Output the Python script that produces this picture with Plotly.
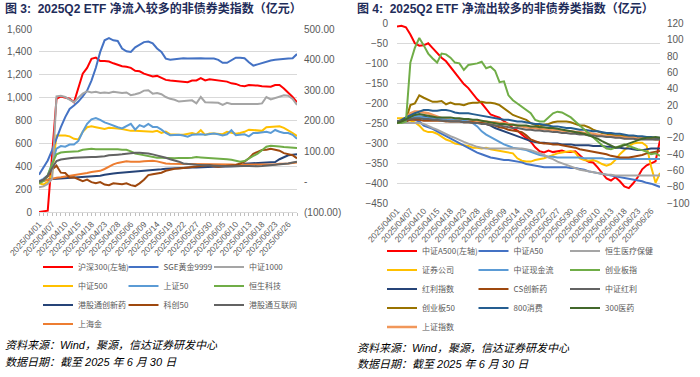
import plotly.graph_objects as go

# ---------------- categories (trading days, 2025Q2) ----------------
dates = [
    "2025/04/01", "2025/04/02", "2025/04/03", "2025/04/07", "2025/04/08", "2025/04/09", "2025/04/10", "2025/04/11",
    "2025/04/14", "2025/04/15", "2025/04/16", "2025/04/17", "2025/04/18", "2025/04/21", "2025/04/22", "2025/04/23",
    "2025/04/24", "2025/04/25", "2025/04/28", "2025/04/29", "2025/04/30",
    "2025/05/06", "2025/05/07", "2025/05/08", "2025/05/09", "2025/05/12", "2025/05/13", "2025/05/14", "2025/05/15",
    "2025/05/16", "2025/05/19", "2025/05/20", "2025/05/21", "2025/05/22", "2025/05/23", "2025/05/26", "2025/05/27",
    "2025/05/28", "2025/05/29", "2025/05/30",
    "2025/06/03", "2025/06/04", "2025/06/05", "2025/06/06", "2025/06/09", "2025/06/10", "2025/06/11", "2025/06/12",
    "2025/06/13", "2025/06/16", "2025/06/17", "2025/06/18", "2025/06/19", "2025/06/20", "2025/06/23", "2025/06/24",
    "2025/06/25", "2025/06/26", "2025/06/27", "2025/06/30",
]
tick_dates = dates[::3]

# ---------------- Figure 3: inflows (亿元) ----------------
hs300 = [0, 5, 12, 500, 990, 1010, 1000, 990, 960, 1080, 1210, 1260, 1340, 1350, 1320, 1320, 1315, 1300, 1285, 1275,
         1270, 1260, 1235, 1230, 1210, 1200, 1185, 1190, 1170, 1155, 1150, 1145, 1140, 1135, 1135, 1150, 1150, 1170, 1150, 1160,
         1155, 1145, 1140, 1140, 1125, 1120, 1105, 1100, 1110, 1110, 1105, 1100, 1100, 1095, 1110, 1110, 1080, 1045, 1005, 960]
sge_gold = [22, 46, 69, 103, 144, 178, 211, 238, 249, 262, 279, 298, 331, 373, 425, 463, 470, 463, 461, 436,
            427, 425, 440, 448, 457, 459, 453, 436, 425, 403, 399, 401, 403, 404, 403, 404, 404, 404, 403, 403,
            403, 399, 389, 389, 397, 406, 406, 404, 391, 380, 384, 389, 393, 397, 399, 401, 403, 403, 404, 418]
csi1000 = [-19, -16, -8, 9, 279, 281, 277, 268, 260, 275, 288, 296, 292, 294, 290, 292, 290, 294, 292, 290,
           292, 283, 286, 290, 298, 299, 288, 290, 286, 277, 271, 268, 262, 264, 266, 266, 256, 277, 260, 260,
           258, 258, 251, 258, 254, 254, 253, 254, 253, 254, 254, 256, 277, 269, 273, 279, 283, 281, 271, 251]
csi500 = [-6, -10, -1, 24, 151, 151, 151, 148, 140, 138, 163, 178, 181, 178, 174, 172, 176, 176, 174, 172,
          168, 166, 166, 166, 166, 164, 163, 166, 159, 164, 155, 153, 153, 153, 155, 159, 155, 168, 153, 157,
          157, 155, 155, 163, 159, 157, 159, 163, 170, 168, 168, 166, 178, 179, 181, 181, 176, 168, 159, 149]
sse50 = [1, 9, 20, 58, 108, 116, 114, 121, 121, 133, 163, 189, 204, 208, 202, 194, 189, 183, 178, 174,
         181, 189, 170, 185, 179, 189, 179, 179, 170, 159, 152, 153, 153, 151, 147, 153, 155, 155, 153, 154,
         157, 155, 151, 155, 168, 152, 153, 155, 148, 159, 159, 161, 163, 159, 169, 163, 159, 159, 153, 140]
hstech = [-6, 1, 20, 58, 89, 95, 97, 97, 97, 99, 104, 106, 107, 106, 106, 108, 107, 106, 106, 104,
          104, 99, 92, 89, 86, 82, 79, 78, 78, 77, 76, 76, 77, 76, 77, 78, 80, 79, 78, 77,
          76, 76, 76, 73, 71, 69, 65, 67, 76, 84, 91, 104, 114, 117, 117, 115, 113, 112, 111, 110]
hk_innov_drug = [1, 4, 7, 8, 9, 10, 12, 13, 14, 15, 16, 16, 17, 17, 19, 22, 25, 26, 28, 29,
                 30, 31, 32, 33, 34, 35, 36, 37, 40, 42, 43, 43, 44, 45, 46, 46, 46, 47, 47, 47,
                 48, 48, 49, 49, 50, 50, 51, 58, 59, 59, 61, 61, 62, 63, 64, 73, 80, 86, 88, 89]
star50 = [-1, 5, 16, 39, 52, 29, 28, 13, 14, 7, 1, 6, -2, -6, -2, -10, -12, -6, -8, -9,
          -6, -12, -15, -6, 6, 21, 24, 26, 29, 35, 39, 42, 43, 44, 46, 47, 49, 51, 53, 54,
          50, 48, 50, 51, 52, 54, 59, 65, 76, 91, 97, 103, 104, 107, 104, 101, 93, 89, 86, 76]
hk_internet = [-1, 5, 20, 46, 67, 72, 75, 76, 78, 79, 79, 80, 80, 80, 81, 83, 86, 88, 88, 89,
               91, 93, 94, 94, 94, 92, 89, 86, 82, 78, 73, 70, 65, 59, 57, 55, 55, 54, 53, 53,
               52, 52, 51, 50, 50, 51, 51, 51, 51, 50, 50, 51, 52, 53, 54, 56, 58, 59, 62, 65]
sh_gold = [-2, 2, 6, 10, 12, 14, 16, 18, 21, 24, 26, 28, 31, 33, 35, 41, 49, 56, 61, 64,
           66, 65, 64, 65, 66, 67, 68, 66, 62, 59, 58, 58, 58, 58, 58, 57, 56, 56, 57, 57,
           58, 57, 57, 56, 56, 55, 55, 54, 55, 55, 56, 55, 55, 55, 56, 58, 58, 59, 61, 62]

# ---------------- Figure 4: outflows (亿元) ----------------
a500 = [-8, -6, -10, -28, -50, -56, -55, -50, -62, -74, -86, -95, -110, -125, -140, -152, -162, -175, -190, -200,
        -215, -228, -232, -236, -245, -252, -262, -268, -278, -286, -296, -310, -320, -323, -318, -322, -320, -318, -322, -322,
        -320, -330, -340, -346, -348, -360, -375, -388, -393, -385, -395, -408, -412, -400, -385, -365, -355, -350, -345, -292]
a50 = [0, 0, 1, 3, 2, 0, -5, -7, -9, -12, -15, -18, -21, -24, -27, -30, -33, -35, -38, -40,
       -42, -44, -45, -46, -47, -47, -48, -49, -50, -52, -53, -54, -55, -56, -56, -56, -56, -56, -56, -57,
       -57, -58, -59, -61, -62, -63, -64, -65, -66, -67, -68, -69, -70, -71, -72, -73, -75, -76, -78, -80]
hs_health = [-2, -2, -2, -2, -2, -2, -3, -6, -8, -10, -13, -16, -18, -20, -23, -25, -27, -29, -31, -32,
             -33, -33, -33, -33, -33, -33, -33, -33, -33, -34, -35, -37, -39, -41, -44, -46, -49, -51, -53, -55,
             -57, -59, -60, -61, -62, -63, -64, -65, -65, -66, -66, -66, -66, -66, -66, -66, -66, -66, -66, -66]
brokers = [4, 4, 4, 1, -1, -5, -11, -13, -13, -15, -19, -22, -24, -27, -28, -29, -30, -32, -32, -33,
           -32, -34, -35, -36, -37, -38, -39, -45, -48, -49, -49, -47, -46, -45, -43, -41, -39, -38, -37, -36,
           -38, -45, -47, -48, -47, -49, -52, -54, -52, -47, -40, -35, -30, -27, -26, -26, -30, -55, -75, -63]
cashflow = [0, 1, 3, 5, 6, 6, 5, 4, 4, 3, 3, 2, 2, 2, 1, 1, 0, -2, -6, -12,
            -16, -19, -23, -26, -28, -30, -32, -33, -34, -35, -37, -39, -41, -42, -43, -43, -44, -44, -44, -44,
            -44, -44, -45, -45, -45, -45, -45, -46, -46, -46, -46, -46, -46, -46, -46, -46, -46, -46, -46, -46]
chinext = [-2, -2, 0, 72, 90, 102, 93, 83, 77, 72, 83, 82, 78, 72, 71, 63, 69, 70, 71, 73,
           65, 67, 62, 48, 49, 32, 26, 22, 18, 14, 10, 2, 0, 0, 5, 10, 12, 11, 8, 5,
           0, -5, -10, -15, -20, -25, -29, -33, -34, -32, -30, -28, -30, -32, -34, -35, -37, -40, -39, -42]
dividend = [0, 1, 3, 5, 6, 6, 6, 5, 4, 3, 2, 2, 2, 2, 2, 2, 1, 1, 0, -1,
            -3, -5, -8, -10, -12, -14, -16, -18, -20, -22, -24, -25, -26, -26, -27, -27, -27, -28, -28, -28,
            -29, -29, -29, -29, -30, -30, -30, -31, -31, -32, -32, -33, -33, -34, -35, -35, -34, -33, -33, -33]
cs_innov_drug = [-2, -1, 0, 2, 2, 2, 1, 1, 1, 1, 1, 0, 0, 0, 0, -1, -1, -1, -2, -2,
                 -3, -4, -5, -7, -8, -10, -11, -12, -13, -17, -22, -24, -26, -27, -27, -28, -28, -29, -30, -31,
                 -32, -34, -35, -36, -37, -38, -39, -40, -42, -43, -44, -44, -44, -43, -42, -41, -39, -38, -37, -36]
csi_dividend = [0, 1, 2, 3, 4, 4, 3, 3, 2, 2, 1, 1, 0, 0, 0, -1, -1, -2, -2, -3,
                -3, -4, -5, -5, -6, -7, -8, -8, -9, -10, -10, -11, -11, -12, -12, -13, -13, -14, -14, -15,
                -15, -16, -16, -17, -17, -18, -18, -19, -19, -20, -20, -21, -21, -21, -22, -22, -22, -22, -22, -22]
chinext50 = [-2, -2, 2, 20, 22, 32, 29, 26, 24, 24, 25, 21, 23, 21, 21, 20, 22, 23, 23, 24,
             23, 23, 22, 20, 16, 11, 8, 6, 4, 2, -2, -4, -6, -4, -3, -1, 0, 0, 0, -1,
             -3, -5, -5, -7, -10, -12, -14, -15, -16, -17, -17, -18, -18, -18, -19, -20, -21, -21, -22, -22]
consume800 = [0, 2, 5, 8, 10, 12, 14, 14, 13, 13, 14, 14, 13, 11, 10, 10, 10, 9, 8, 7,
              6, 5, 4, 3, 2, 2, 1, 0, 0, -1, -2, -3, -3, -4, -5, -6, -6, -7, -8, -8,
              -9, -10, -10, -11, -12, -12, -13, -14, -14, -15, -15, -16, -17, -17, -18, -18, -19, -19, -20, -20]
pharma300 = [-2, 0, 3, 6, 8, 9, 8, 7, 6, 5, 5, 5, 5, 4, 4, 3, 3, 2, 2, 1,
             0, -1, -2, -3, -3, -4, -4, -5, -5, -5, -6, -6, -7, -7, -8, -8, -9, -10, -11, -12,
             -13, -14, -15, -17, -19, -21, -24, -27, -30, -32, -31, -29, -27, -25, -23, -21, -20, -20, -19, -20]
sse_composite = [-2, 0, 4, 10, 12, 12, 11, 10, 8, 6, 4, 3, 2, 2, 1, 1, 0, 0, 0, 0,
                 0, -1, -1, -2, -2, -3, -4, -5, -6, -7, -8, -8, -9, -9, -10, -10, -11, -11, -12, -12,
                 -13, -13, -14, -14, -15, -16, -17, -18, -18, -19, -19, -20, -20, -20, -21, -21, -21, -21, -21, -21]

# right-axis tick labels of figure 3
f3_right_vals = [-100, 0, 100, 200, 300, 400, 500]
f3_right_text = ["(100.00)", "-", "100.00", "200.00", "300.00", "400.00", "500.00"]

W, H = 700, 377
TICK_FONT = dict(family="Liberation Sans, Arial, sans-serif", size=10, color="#595959")
CJK = "Noto Sans CJK SC, Liberation Sans, sans-serif"
GRID = "#D9D9D9"

fig = go.Figure()


def add(name, y, color, xa, ya, legend, group, width=2.0, lw=None):
    fig.add_trace(go.Scatter(
        x=dates, y=y, name=name, mode="lines",
        line=dict(color=color, width=width),
        xaxis=xa, yaxis=ya, legend=legend, legendgroup=group,
        legendwidth=lw, hoverinfo="skip",
    ))


# Figure 3 traces (column-wise legend groups)
add("沪深300(左轴)", hs300, "#FF0000", "x", "y", "legend", "L1")
add("中证500", csi500, "#FFC000", "x", "y2", "legend", "L1")
add("港股通创新药", hk_innov_drug, "#264478", "x", "y2", "legend", "L1")
add("上海金", sh_gold, "#ED7D31", "x", "y2", "legend", "L1")
add("SGE黄金9999", sge_gold, "#4472C4", "x", "y2", "legend", "L2")
add("上证50", sse50, "#5B9BD5", "x", "y2", "legend", "L2")
add("科创50", star50, "#9E480E", "x", "y2", "legend", "L2")
add("中证1000", csi1000, "#A5A5A5", "x", "y2", "legend", "L3", lw=90)
add("恒生科技", hstech, "#70AD47", "x", "y2", "legend", "L3", lw=90)
add("港股通互联网", hk_internet, "#636363", "x", "y2", "legend", "L3", lw=90)

# Figure 4 traces
add("中证A500(左轴)", a500, "#FF0000", "x2", "y3", "legend2", "R1")
add("证券公司", brokers, "#FFC000", "x2", "y4", "legend2", "R1")
add("红利指数", dividend, "#264478", "x2", "y4", "legend2", "R1")
add("创业板50", chinext50, "#997300", "x2", "y4", "legend2", "R1")
add("上证指数", sse_composite, "#F1975A", "x2", "y4", "legend2", "R1", width=2.6)
add("中证A50", a50, "#4472C4", "x2", "y4", "legend2", "R2")
add("中证现金流", cashflow, "#5B9BD5", "x2", "y4", "legend2", "R2")
add("CS创新药", cs_innov_drug, "#9E480E", "x2", "y4", "legend2", "R2")
add("800消费", consume800, "#255E91", "x2", "y4", "legend2", "R2")
add("恒生医疗保健", hs_health, "#A5A5A5", "x2", "y4", "legend2", "R3", lw=80)
add("创业板指", chinext, "#70AD47", "x2", "y4", "legend2", "R3", lw=80)
add("中证红利", csi_dividend, "#636363", "x2", "y4", "legend2", "R3", lw=80)
add("300医药", pharma300, "#43682B", "x2", "y4", "legend2", "R3", lw=80)


def px_x(p):
    return p / W


def px_y(p):
    return 1 - p / H


xcommon = dict(
    type="category", categoryorder="array", categoryarray=dates,
    range=[0, len(dates) - 1], tickmode="array", tickvals=tick_dates, ticktext=tick_dates,
    tickangle=-48, tickfont=dict(family=TICK_FONT["family"], size=8.5, color="#595959"),
    showgrid=False, zeroline=False, automargin=False, fixedrange=True,
)

fig.update_layout(
    template="none",
    width=W, height=H,
    margin=dict(l=0, r=0, t=0, b=0),
    paper_bgcolor="white", plot_bgcolor="white",
    showlegend=True,
    xaxis=dict(**xcommon, domain=[px_x(39), px_x(297)], anchor="y",
               showline=True, linecolor=GRID, linewidth=1,
               ticks="outside", ticklen=3, tickcolor="#BFBFBF",
               minor=dict(ticks="outside", ticklen=3, tickcolor="#BFBFBF", dtick=1)),
    yaxis=dict(domain=[px_y(212), px_y(29)], anchor="x", range=[0, 1600], dtick=200,
               tickformat=",", tickfont=TICK_FONT, showgrid=True, gridcolor=GRID, gridwidth=1,
               zeroline=False, showline=False, ticks="", ticklabelstandoff=6, automargin=False),
    yaxis2=dict(overlaying="y", side="right", anchor="x", range=[-100, 500],
                tickmode="array", tickvals=f3_right_vals, ticktext=f3_right_text,
                tickfont=TICK_FONT, showgrid=False, zeroline=False, showline=False, ticks="",
                ticklabelstandoff=6, automargin=False),
    xaxis2=dict(**xcommon, domain=[px_x(397), px_x(660)], anchor="y3",
                showline=False, ticks=""),
    xaxis3=dict(overlaying="x2", anchor="y3", side="top", type="category",
                categoryorder="array", categoryarray=dates, range=[0, len(dates) - 1],
                showticklabels=False, showgrid=False, zeroline=False,
                showline=True, linecolor=GRID, linewidth=1,
                ticks="inside", ticklen=3, tickcolor="#BFBFBF", dtick=1, automargin=False),
    yaxis3=dict(domain=[px_y(203.3), px_y(23.3)], anchor="x2", range=[-450, 0], dtick=50,
                tickfont=TICK_FONT, showgrid=True, gridcolor=GRID, gridwidth=1,
                zeroline=False, showline=False, ticks="", ticklabelstandoff=8, automargin=False),
    yaxis4=dict(overlaying="y3", side="right", anchor="x2", range=[-100, 120], dtick=20,
                tickfont=TICK_FONT, showgrid=False, zeroline=False, showline=False, ticks="",
                ticklabelstandoff=6, automargin=False),
    legend=dict(orientation="h", traceorder="grouped", x=px_x(38), xanchor="left",
                y=px_y(252.5), yanchor="top", entrywidth=40.5, entrywidthmode="pixels",
                font=dict(family=CJK, size=8, color="#595959"), bgcolor="rgba(0,0,0,0)",
                tracegroupgap=0, borderwidth=0),
    legend2=dict(orientation="h", traceorder="grouped", x=px_x(382), xanchor="left",
                 y=px_y(236.5), yanchor="top", entrywidth=46.5, entrywidthmode="pixels",
                 font=dict(family=CJK, size=8, color="#595959"), bgcolor="rgba(0,0,0,0)",
                 tracegroupgap=0, borderwidth=0),
)

TITLE_FONT = dict(family="Liberation Sans, Noto Sans CJK SC, sans-serif", size=12, color="#1F2D5A")
SRC_FONT = dict(family="Liberation Sans, Noto Sans CJK SC, sans-serif", size=11, color="#000000")

annotations = [
    dict(text="<b>图 3:  2025Q2 ETF 净流入较多的非债券类指数（亿元）</b>", x=px_x(3), y=px_y(8),
         font=TITLE_FONT),
    dict(text="<b>图 4:  2025Q2 ETF 净流出较多的非债券类指数（亿元）</b>", x=px_x(355), y=px_y(8),
         font=TITLE_FONT),
    dict(text="<i>资料来源：Wind，聚源，信达证券研发中心</i>", x=px_x(3), y=px_y(345), font=SRC_FONT),
    dict(text="<i>数据日期：截至 2025 年 6 月 30 日</i>", x=px_x(3), y=px_y(362), font=SRC_FONT),
    dict(text="<i>资料来源：Wind，聚源，信达证券研发中心</i>", x=px_x(355), y=px_y(347.5), font=SRC_FONT),
    dict(text="<i>数据日期：截至 2025 年 6 月 30 日</i>", x=px_x(355), y=px_y(364), font=SRC_FONT),
]
for a in annotations:
    fig.add_annotation(xref="paper", yref="paper", xanchor="left", yanchor="middle",
                       showarrow=False, **a)

fig.write_html("out.html", config={"displayModeBar": False},
               post_script="document.body.style.margin='0';document.body.style.overflow='hidden';")
